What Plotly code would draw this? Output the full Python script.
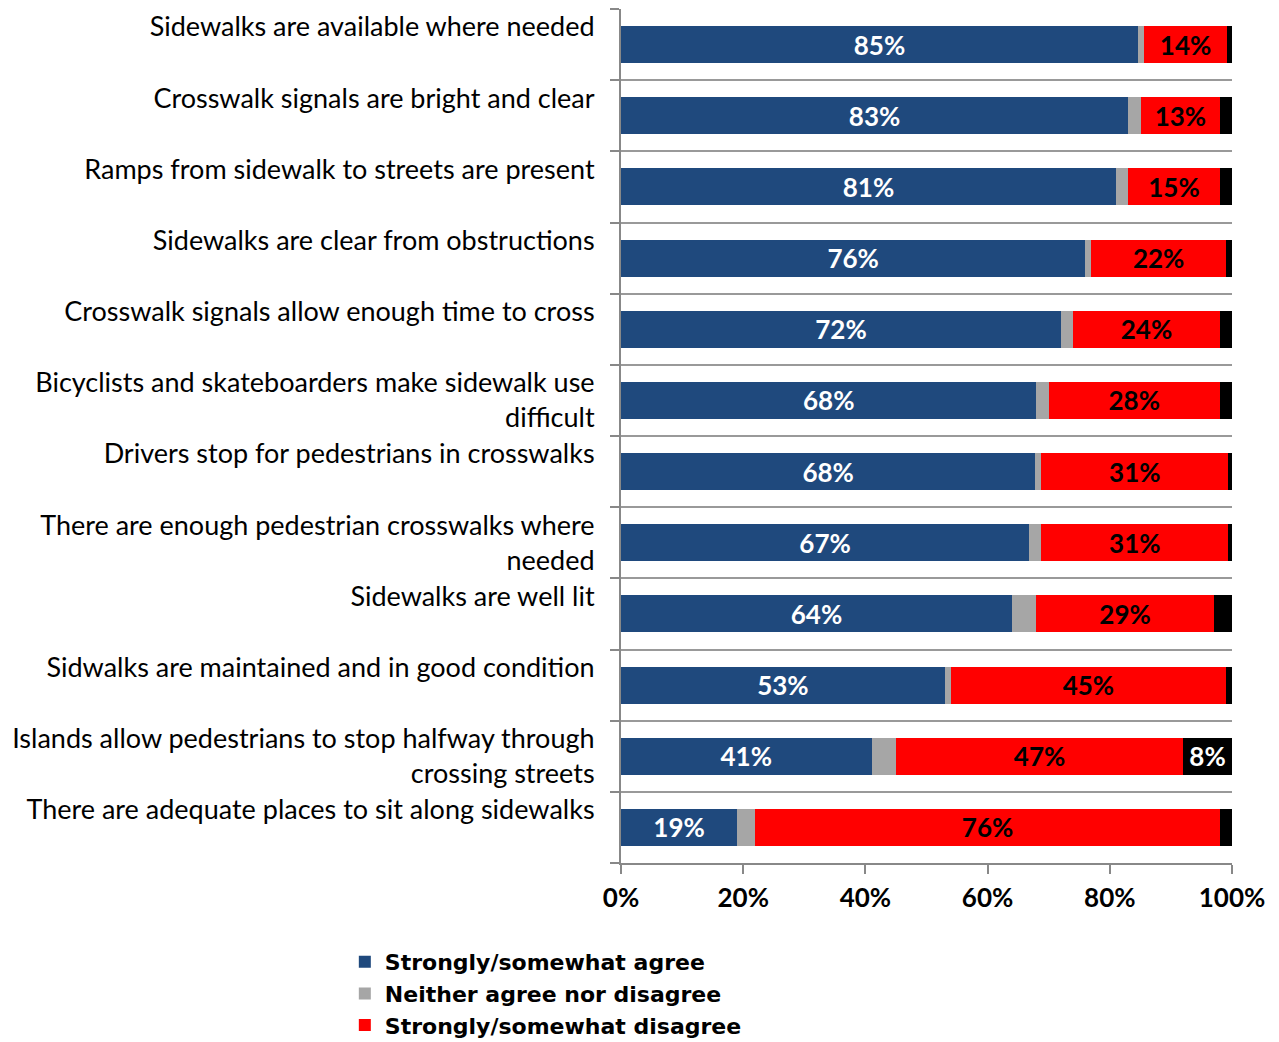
import plotly.graph_objects as go

categories = [
    "Sidewalks are available where needed",
    "Crosswalk signals are bright and clear",
    "Ramps from sidewalk to streets are present",
    "Sidewalks are clear from obstructions",
    "Crosswalk signals allow enough time to cross",
    "Bicyclists and skateboarders make sidewalk use<br>difficult",
    "Drivers stop for pedestrians in crosswalks",
    "There are enough pedestrian crosswalks where<br>needed",
    "Sidewalks are well lit",
    "Sidwalks are maintained and in good condition",
    "Islands allow pedestrians to stop halfway through<br>crossing streets",
    "There are adequate places to sit along sidewalks",
]

agree = [84.6, 83.0, 81.0, 76.0, 72.0, 68.0, 67.8, 66.8, 64.0, 53.0, 41.0, 19.0]
neither = [1.0, 2.1, 2.0, 1.0, 2.0, 2.0, 1.0, 2.0, 4.0, 1.0, 4.0, 3.0]
disagree = [13.6, 12.9, 15.0, 22.0, 24.0, 28.0, 30.6, 30.6, 29.0, 45.0, 47.0, 76.0]
dont_know = [0.8, 2.0, 2.0, 1.0, 2.0, 2.0, 0.6, 0.6, 3.0, 1.0, 8.0, 2.0]

x_tickvals = [0, 20, 40, 60, 80, 100]
x_ticktext = ["0%", "20%", "40%", "60%", "80%", "100%"]

series_names = [
    "Strongly/somewhat agree",
    "Neither agree nor disagree",
    "Strongly/somewhat disagree",
    "Don't know",
]
colors = ["#1F497D", "#A6A6A6", "#FF0000", "#000000"]
text_colors = ["white", "white", "black", "white"]

def labels(vals, show_min):
    return [f"{round(v)}%" if v >= show_min else "" for v in vals]

series = [agree, neither, disagree, dont_know]
show_mins = [5, 1000, 5, 5]

# single-line labels get an empty second line so they sit high like the original
ticktext = [c if "<br>" in c else c + "<br> " for c in categories]

fig = go.Figure()
for i, (name, vals) in enumerate(zip(series_names, series)):
    fig.add_trace(go.Bar(
        y=categories,
        x=vals,
        name=name,
        orientation="h",
        marker=dict(color=colors[i], line=dict(width=0)),
        text=labels(vals, show_mins[i]),
        textposition="inside",
        insidetextanchor="middle",
        textfont=dict(family="Lato", size=26, color=text_colors[i], weight="bold"),
        constraintext="none",
        width=0.52,
        showlegend=(i < 3),
        hoverinfo="skip",
    ))

fig.update_layout(
    barmode="stack",
    width=1279,
    height=1042,
    margin=dict(l=613, r=55, t=1, b=187),
    paper_bgcolor="white",
    plot_bgcolor="white",
    font=dict(family="Lato", color="black"),
    uniformtext=dict(minsize=26, mode="show"),
    legend=dict(
        xref="paper",
        yref="container",
        x=-0.452,
        y=1 - 933 / 1042,
        xanchor="left",
        yanchor="top",
        orientation="v",
        traceorder="normal",
        font=dict(family="DejaVu Sans", size=22, color="black", weight="bold"),
        tracegroupgap=0,
        bgcolor="rgba(0,0,0,0)",
    ),
    showlegend=True,
)

fig.update_yaxes(
    type="category",
    categoryorder="array",
    categoryarray=categories,
    tickvals=categories,
    ticktext=ticktext,
    autorange="reversed",
    tickson="boundaries",
    ticks="outside",
    ticklen=9,
    tickwidth=2,
    tickcolor="#888888",
    showgrid=True,
    gridcolor="#999999",
    gridwidth=2,
    showline=True,
    linecolor="#888888",
    linewidth=2,
    tickfont=dict(family="Lato", size=27, color="black"),
    ticklabelstandoff=19,
    automargin=False,
)

fig.update_xaxes(
    range=[0, 100],
    tickvals=x_tickvals,
    ticktext=x_ticktext,
    showgrid=False,
    zeroline=False,
    showline=True,
    linecolor="#888888",
    linewidth=2,
    ticks="outside",
    ticklen=9,
    tickwidth=2,
    tickcolor="#888888",
    tickfont=dict(family="Lato", size=26, color="black", weight="bold"),
    ticklabelstandoff=2,
    automargin=False,
)

fig.write_html("out.html")
